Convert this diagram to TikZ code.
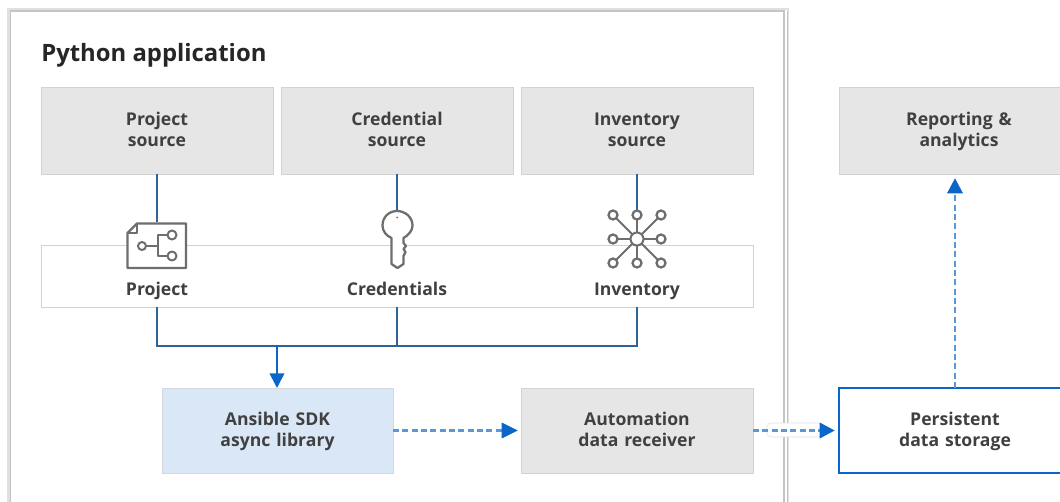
\documentclass[tikz,border=0pt]{standalone}
\usepackage{fontspec}
\setmainfont{Open Sans}
\usetikzlibrary{arrows.meta}
\definecolor{boxgrey}{HTML}{E6E6E6}
\definecolor{boxline}{HTML}{D2D2D2}
\definecolor{frameline}{HTML}{C4C4C4}
\definecolor{linkblue}{HTML}{2F6396}
\definecolor{flowblue}{HTML}{0A66C8}
\definecolor{dashblue}{HTML}{5A97D8}
\definecolor{sdkblue}{HTML}{D9E7F6}
\definecolor{icongrey}{HTML}{6E6E6E}
\definecolor{textgrey}{HTML}{404040}
\newcommand{\twoline}[2]{\rule{0pt}{\dimexpr\ht\strutbox+1.5pt\relax}\strut #1\\\strut #2}
\tikzset{
        srcbox/.style={draw=boxline,fill=boxgrey,anchor=north west,align=center,text=textgrey,
                font=\fontsize{13.2}{15.8}\selectfont\bfseries,text width=0.75pt*232,inner sep=0pt,outer sep=0pt},
        lbl/.style={anchor=base,text=textgrey,font=\fontsize{13.2}{15.8}\selectfont\bfseries,inner sep=0pt},
        icn/.style={inner sep=0pt,outer sep=0pt},
        icnline/.style={draw=icongrey,line width=1.7pt,line join=round},
        linkline/.style={draw=linkblue,line width=1.3pt},
        flowline/.style={draw=flowblue,line width=1.3pt,-{Triangle[length=11pt,width=11pt]}},
        dashline/.style={draw=dashblue,line width=1.6pt,dash pattern=on 4.5pt off 2.5pt}
}
\begin{document}
\begin{tikzpicture}[x=0.75pt,y=-0.75pt]
        \useasboundingbox[fill=white] (0,0) rectangle (1060,502);
        \draw[white!88!black,line width=2pt] (8.5,510) -- (8.5,9) -- (788,9) -- (788,510);
        \draw[frameline,line width=1.1pt] (10.5,510) -- (10.5,11) -- (784,11) -- (784,510);
        \draw[frameline,line width=1.1pt] (787.5,11) -- (787.5,510);
        \node[anchor=base west,inner sep=0pt,text=black!85,font=\fontsize{17.9}{20}\selectfont\bfseries] (apptitle) at (41,62) {Python application};

        \node[srcbox,minimum height=0.75pt*87] (projsrc) at (41,87) {\twoline{Project}{source}};
        \node[srcbox,minimum height=0.75pt*87] (credsrc) at (281,87) {\twoline{Credential}{source}};
        \node[srcbox,minimum height=0.75pt*87] (invsrc) at (521,87) {\twoline{Inventory}{source}};
        \node[srcbox,minimum height=0.75pt*87,text width=0.75pt*240] (reportbox) at (839,87) {\twoline{Reporting \&}{analytics}};

        \node[draw=boxline,anchor=north west,inner sep=0pt,outer sep=0pt,minimum width=0.75pt*712,minimum height=0.75pt*62] (midbox) at (41,245) {};

        \node[icn,minimum width=0.75pt*60,minimum height=0.75pt*46] (projicn) at (157,245.5) {};
        \node[icn,minimum width=0.75pt*32,minimum height=0.75pt*58] (credicn) at (397,239.5) {};
        \node[icn,minimum width=0.75pt*58,minimum height=0.75pt*58] (invicn) at (637,239) {};

        \draw[linkline] (projsrc.south -| projicn) -- (projicn.north);
        \draw[linkline] (credsrc.south -| credicn) -- (credicn.north);
        \draw[linkline] (invsrc.south -| invicn) -- (invicn.north);

        \draw[icnline,fill=white] (137,223.5) -- (186,223.5) -- (186,268) -- (127.5,268) -- (127.5,233) -- cycle;
        \draw[icnline,line width=1.2pt] (127.5,233) -- (137,233) -- (137,223.5);
        \draw[icnline,line width=1.5pt] (142,246) circle (4);
        \draw[icnline,line width=1.5pt] (172,235) circle (4.5);
        \draw[icnline,line width=1.5pt] (172,256) circle (4.5);
        \draw[icnline,line width=1.5pt] (146,246) -- (157,246);
        \draw[icnline,line width=1.5pt] (167,235) -- (158,235) -- (158,256) -- (167,256);

        \draw[icnline,fill=white] (391.5,238) .. controls (386,235.5) and (382.5,231) .. (382.5,225.5)
                .. controls (382.5,217) and (389,211) .. (397,211)
                .. controls (405,211) and (412.5,217) .. (412.5,225.5)
                .. controls (412.5,231) and (408,235.5) .. (403.5,238)
                -- (403.5,243) -- (406,246) -- (403.5,249) -- (405.5,252) -- (403.5,256) -- (403.5,264)
                -- (397.5,268) -- (391.5,264) -- cycle;
        \fill[icongrey] (397,217.5) circle (1);

        \foreach \dx/\dy in {-24/-24,0/-24,24/-24,-24/0,24/0,-24/24,0/24,24/24} {
                \draw[icnline,line width=1.5pt] (637,239) -- (637+\dx,239+\dy);
        }
        \foreach \dx/\dy in {-24/-24,0/-24,24/-24,-24/0,24/0,-24/24,0/24,24/24} {
                \draw[icnline,line width=1.7pt,fill=white] (637+\dx,239+\dy) circle (4.5);
        }
        \draw[icnline,line width=1.5pt,fill=white] (637,239) circle (6.5);

        \node[lbl] (projlbl) at (157,296) {Project};
        \node[lbl] (credlbl) at (397,296) {Credentials};
        \node[lbl] (invlbl) at (637,296) {Inventory};

        \node[srcbox,draw=boxline!70!sdkblue,fill=sdkblue,minimum height=0.75pt*85,text width=0.75pt*231] (sdkbox) at (162,388) {\twoline{Ansible SDK}{async library}};
        \node[srcbox,minimum height=0.75pt*85] (recvbox) at (521,388) {\twoline{Automation}{data receiver}};
        \node[srcbox,draw=flowblue,fill=white,line width=1.2pt,minimum height=0.75pt*85] (storebox) at (839,388) {\twoline{Persistent}{data storage}};

        \coordinate (projout) at (157,307);
        \coordinate (credout) at (397,307);
        \coordinate (invout) at (637,307);
        \coordinate (busjoin) at (277,346);
        \draw[linkline] (projout) |- (busjoin);
        \draw[linkline] (invout) |- (busjoin);
        \draw[linkline] (credout) -- (credout |- busjoin);
        \draw[flowline] (busjoin) -- (sdkbox.north -| busjoin);

        \node[draw=black!12,fill=white,rounded corners=3pt,inner sep=0pt,outer sep=0pt,minimum width=0.75pt*55,minimum height=0.75pt*14] (gapbox) at (794.5,430) {};

        \draw[dashline] (sdkbox.east) -- (505,430.5);
        \draw[flowblue,fill=flowblue] (502,423) -- (517,430.5) -- (502,438) -- cycle;
        \draw[dashline] (recvbox.east) -- (822,430.5);
        \draw[flowblue,fill=flowblue] (820,423) -- (834,430.5) -- (820,438) -- cycle;
        \draw[dashline] (storebox.north) -- (955,192);
        \draw[flowblue,fill=flowblue] (947.5,193) -- (955,179) -- (962.5,193) -- cycle;
\end{tikzpicture}
\end{document}
